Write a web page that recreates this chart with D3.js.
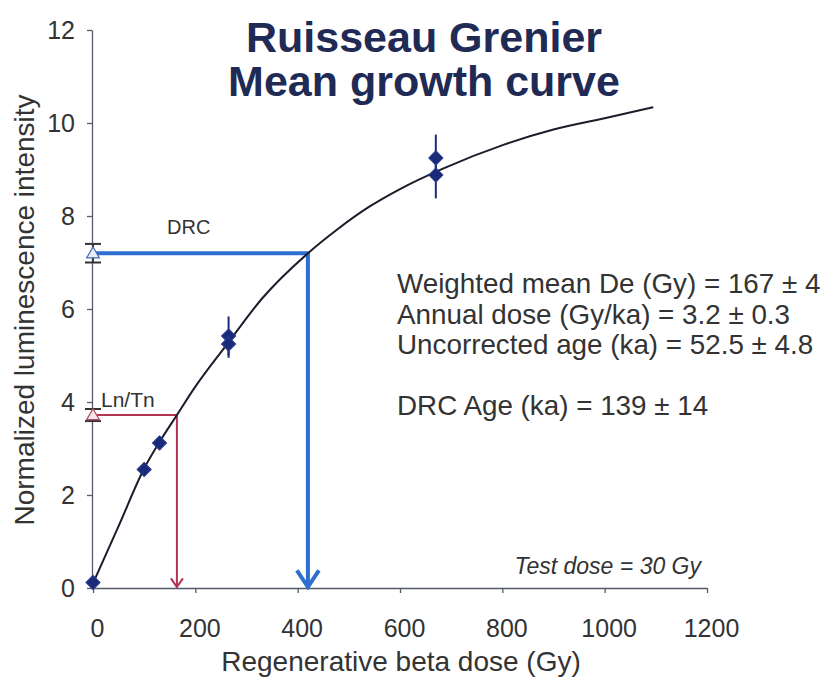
<!DOCTYPE html>
<html>
<head>
<meta charset="utf-8">
<script src="https://cdn.jsdelivr.net/npm/d3@7"></script>
<style>
  html, body { margin: 0; padding: 0; background: #fff; }
  svg { display: block; font-family: "Liberation Sans", Arial, sans-serif; }
</style>
</head>
<body>
<svg id="chart" width="829" height="679"></svg>
<script>
// Regeneration points (dose in Gy, normalized luminescence, error)
const regenDose = [0, 100, 130, 265, 265, 670, 670];
const regenLum  = [0.12, 2.55, 3.12, 5.42, 5.25, 9.25, 8.88];
const regenErr  = [0.05, 0.14, 0.14, 0.42, 0.3, 0.5, 0.5];

// Fitted growth curve
const curveDose = [0, 50, 100, 130, 164, 200, 266, 330, 418, 476, 540, 600, 684, 802, 900, 1000, 1095];
const curveLum  = [0.1, 1.33, 2.57, 3.14, 3.72, 4.33, 5.3, 6.22, 7.18, 7.7, 8.2, 8.58, 9.02, 9.53, 9.86, 10.1, 10.34];

// Natural signals projected on the curve
const lnTn = { lum: 3.72, err: 0.13, dose: 164 };
const drc  = { lum: 7.2,  err: 0.2,  dose: 420 };

const xTicks = [0, 200, 400, 600, 800, 1000, 1200];
const yTicks = [0, 2, 4, 6, 8, 10, 12];

const titleLines = ["Ruisseau Grenier", "Mean growth curve"];
const infoLines = [
  "Weighted mean De (Gy) = 167 \u00b1 4",
  "Annual dose (Gy/ka) = 3.2 \u00b1 0.3",
  "Uncorrected age (ka) = 52.5 \u00b1 4.8",
  "",
  "DRC Age (ka) = 139 \u00b1 14"
];

const svg = d3.select("#chart");
const x = d3.scaleLinear().domain([0, 1200]).range([93, 707]);
const y = d3.scaleLinear().domain([0, 12]).range([588, 30]);

const axisColor = "#555a6a";
const textColor = "#333";
const navy = "#1b2a78";
const blue = "#2c6fd0";
const red = "#b23452";

// Axes
const xAxis = svg.append("g").attr("transform", `translate(0,${y(0)})`)
  .call(d3.axisBottom(x).tickValues(xTicks).tickFormat(d3.format("d"))
    .tickSize(5).tickSizeOuter(0).tickPadding(26));
const yAxis = svg.append("g").attr("transform", `translate(${x(0) - 1},0)`)
  .call(d3.axisLeft(y).tickValues(yTicks).tickFormat(d3.format("d"))
    .tickSize(5).tickSizeOuter(0).tickPadding(12));
[xAxis, yAxis].forEach(a => {
  a.select(".domain").attr("stroke", axisColor).attr("stroke-width", 1.3);
  a.selectAll(".tick line").attr("stroke", axisColor).attr("stroke-width", 1.3);
  a.selectAll(".tick text").attr("fill", textColor).attr("font-size", 25)
    .attr("font-family", "Liberation Sans, Arial, sans-serif");
});
xAxis.selectAll(".tick text").attr("dx", 4);

// Axis titles
svg.append("text").attr("x", 401).attr("y", 671).attr("text-anchor", "middle")
  .attr("font-size", 28).attr("fill", textColor).text("Regenerative beta dose (Gy)");
svg.append("text").attr("transform", "translate(34,310) rotate(-90)").attr("text-anchor", "middle")
  .attr("font-size", 28).attr("fill", textColor).text("Normalized luminescence intensity");

// Title
svg.append("g").selectAll("text").data(titleLines).join("text")
  .attr("x", 424).attr("y", (d, i) => 52 + i * 44).attr("text-anchor", "middle")
  .attr("font-size", 43).attr("font-weight", "bold").attr("fill", "#1f2a55").text(d => d);

// Projection lines with arrows
function projection(p, color, width, head) {
  const px = x(p.dose), py = y(p.lum), base = y(0);
  svg.append("path")
    .attr("d", `M${x(0)},${py}H${px}V${base - 1}`)
    .attr("fill", "none").attr("stroke", color).attr("stroke-width", width);
  svg.append("path")
    .attr("d", `M${px - head},${base - head * 1.6}L${px},${base - 1}L${px + head},${base - head * 1.6}`)
    .attr("fill", "none").attr("stroke", color).attr("stroke-width", width)
    .attr("stroke-linejoin", "miter");
}
projection(drc, blue, 4, 11);
projection(lnTn, red, 2, 6);

// Growth curve
const line = d3.line().x(d => x(d[0])).y(d => y(d[1])).curve(d3.curveMonotoneX);
svg.append("path").datum(d3.zip(curveDose, curveLum))
  .attr("d", line).attr("fill", "none").attr("stroke", "#1c1c2a").attr("stroke-width", 2);

// Error bars
function errBar(g, cx, lo, hi, color, cap) {
  g.append("line").attr("x1", cx).attr("x2", cx).attr("y1", y(lo)).attr("y2", y(hi))
    .attr("stroke", color).attr("stroke-width", 2);
  if (cap) {
    [lo, hi].forEach(v => g.append("line").attr("x1", cx - cap).attr("x2", cx + cap)
      .attr("y1", y(v)).attr("y2", y(v)).attr("stroke", color).attr("stroke-width", 2));
  }
}
const pts = svg.append("g");
regenDose.forEach((d, i) => errBar(pts, x(d), regenLum[i] - regenErr[i], regenLum[i] + regenErr[i], navy, 0));
const square = d3.symbol(d3.symbolSquare, 100);
pts.selectAll("path.pt").data(d3.zip(regenDose, regenLum)).join("path")
  .attr("class", "pt")
  .attr("transform", d => `translate(${x(d[0])},${y(d[1])}) rotate(45)`)
  .attr("d", square).attr("fill", navy).attr("stroke", "#2a3a90").attr("stroke-width", 1);

// Natural signal markers on the y axis
const tri = d3.symbol(d3.symbolTriangle, 70);
[[drc, "#4a6cb0", "#e8eef8"], [lnTn, "#b04a60", "#f6e6ea"]].forEach(([p, stroke, fill]) => {
  errBar(svg, x(0), p.lum - p.err, p.lum + p.err, "#333", 8);
  svg.append("path").attr("transform", `translate(${x(0)},${y(p.lum) + 1})`)
    .attr("d", tri).attr("fill", fill).attr("stroke", stroke).attr("stroke-width", 1.2);
});

// Labels
svg.append("text").attr("x", 167).attr("y", 234).attr("font-size", 20).attr("fill", textColor).text("DRC");
svg.append("text").attr("x", 101).attr("y", 407).attr("font-size", 21).attr("fill", textColor).text("Ln/Tn");

svg.append("g").selectAll("text").data(infoLines).join("text")
  .attr("x", 397).attr("y", (d, i) => 293 + i * 30.5)
  .attr("font-size", 27.8).attr("fill", textColor).text(d => d);

svg.append("text").attr("x", 701).attr("y", 574).attr("text-anchor", "end")
  .attr("font-size", 23).attr("font-style", "italic").attr("fill", textColor).text("Test dose = 30 Gy");
</script>
</body>
</html>
